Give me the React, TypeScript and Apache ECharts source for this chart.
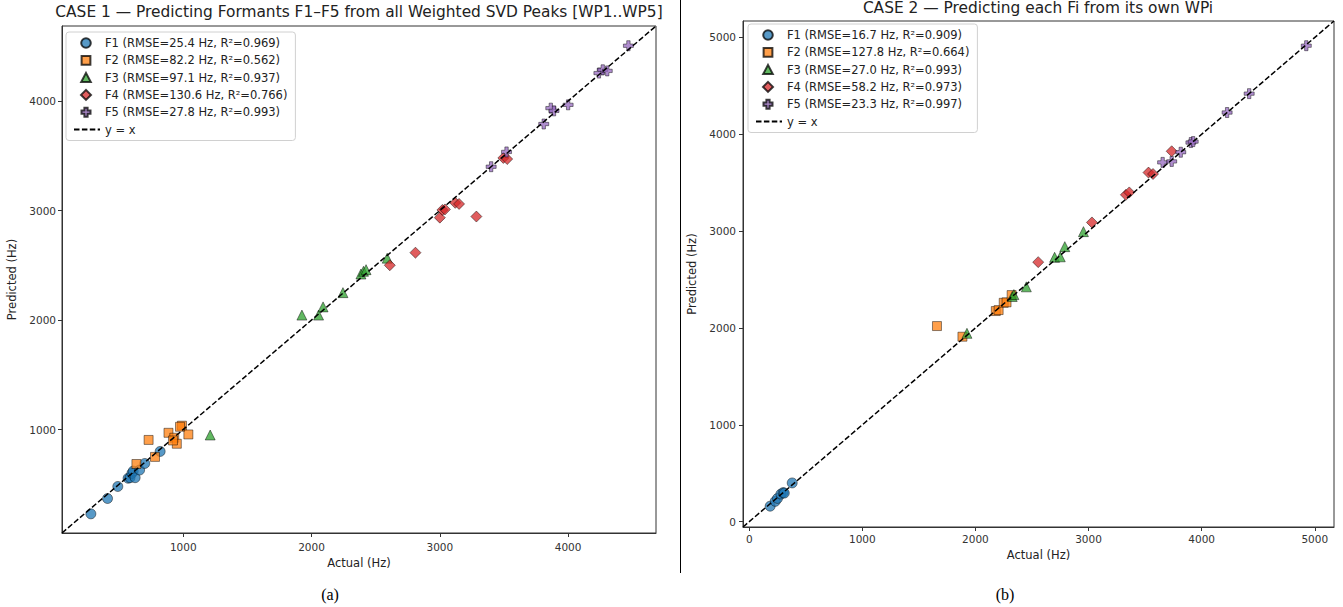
import React, { useEffect, useRef } from "react";
import * as echarts from "echarts";

// ---------- CASE 1 data (left) ----------
const A_NAMES = [
  "F1 (RMSE=25.4 Hz, R²=0.969)",
  "F2 (RMSE=82.2 Hz, R²=0.562)",
  "F3 (RMSE=97.1 Hz, R²=0.937)",
  "F4 (RMSE=130.6 Hz, R²=0.766)",
  "F5 (RMSE=27.8 Hz, R²=0.993)",
];
const A_F1_ACT = [280, 410, 490, 570, 585, 600, 610, 625, 660, 700, 820];
const A_F1_PRED = [230, 370, 480, 555, 560, 600, 620, 560, 630, 690, 800];
const A_F2_ACT = [730, 635, 780, 885, 990, 930, 950, 1040, 975, 920];
const A_F2_PRED = [905, 685, 750, 970, 1035, 925, 870, 955, 1025, 900];
const A_F3_ACT = [1210, 1925, 2055, 2090, 2245, 2385, 2405, 2425, 2590];
const A_F3_PRED = [950, 2045, 2045, 2120, 2250, 2420, 2445, 2460, 2565];
const A_F4_ACT = [2610, 2810, 3000, 3020, 3040, 3120, 3150, 3285, 3495, 3525];
const A_F4_PRED = [2500, 2615, 2935, 3005, 3010, 3070, 3060, 2945, 3480, 3470];
const A_F5_ACT = [3400, 3520, 3810, 3865, 3890, 4000, 4240, 4270, 4305, 4470];
const A_F5_PRED = [3400, 3535, 3790, 3935, 3910, 3965, 4255, 4285, 4275, 4505];
const A_RANGE = [55, 4685];
const A_TICKS = [1000, 2000, 3000, 4000];

// ---------- CASE 2 data (right) ----------
const B_NAMES = [
  "F1 (RMSE=16.7 Hz, R²=0.909)",
  "F2 (RMSE=127.8 Hz, R²=0.664)",
  "F3 (RMSE=27.0 Hz, R²=0.993)",
  "F4 (RMSE=58.2 Hz, R²=0.973)",
  "F5 (RMSE=23.3 Hz, R²=0.997)",
];
const B_F1_ACT = [185, 230, 250, 280, 300, 310, 380];
const B_F1_PRED = [160, 210, 240, 285, 300, 295, 400];
const B_F2_ACT = [1660, 1885, 2180, 2205, 2250, 2275, 2320];
const B_F2_PRED = [2020, 1910, 2175, 2185, 2260, 2265, 2340];
const B_F3_ACT = [1925, 2325, 2340, 2450, 2700, 2750, 2790, 2955];
const B_F3_PRED = [1945, 2325, 2345, 2425, 2730, 2735, 2840, 2995];
const B_F4_ACT = [2555, 3030, 3330, 3360, 3530, 3570, 3735];
const B_F4_PRED = [2680, 3090, 3375, 3400, 3605, 3590, 3825];
const B_F5_ACT = [3655, 3735, 3815, 3905, 3925, 4225, 4420, 4925];
const B_F5_PRED = [3710, 3720, 3815, 3915, 3925, 4225, 4420, 4915];
const B_RANGE = [-55, 5170];
const B_TICKS = [0, 1000, 2000, 3000, 4000, 5000];

const LINE_NAME = "y = x";
const TITLE_A = "CASE 1 — Predicting Formants F1–F5 from all Weighted SVD Peaks [WP1..WP5]";
const TITLE_B = "CASE 2 — Predicting each Fi from its own WPi";

const COLORS = ["#1f77b4", "#ff7f0e", "#2ca02c", "#d62728", "#9467bd"];
const PLUS = "path://M3,0H6V3H9V6H6V9H3V6H0V3H3Z";
const SYMBOLS = ["circle", "rect", "triangle", "diamond", PLUS];
const SIZES = [10, 9, 10, 11, 10];

// legend icons: padded to a 26x10 box so the marker keeps its shape
const PAD = "M0,0M26,10";
const LEGEND_ICONS = [
  `path://${PAD}M16.8,5A4.8,4.8,0,1,1,7.2,5A4.8,4.8,0,1,1,16.8,5Z`,
  `path://${PAD}M7.6,0.6H16.4V9.4H7.6Z`,
  `path://${PAD}M12,0.3L16.8,9.4H7.2Z`,
  `path://${PAD}M12,0L17,5L12,10L7,5Z`,
  `path://${PAD}M10.4,0.5H13.6V3.4H16.5V6.6H13.6V9.5H10.4V6.6H7.5V3.4H10.4Z`,
];

const FONT = "DejaVu Sans";

function zip(a: number[], b: number[]) {
  return a.map((v, i) => [v, b[i]]);
}

export default function App() {
  const ref = useRef<HTMLDivElement>(null);
  useEffect(() => {
    if (!ref.current) return;
    const chart = echarts.init(ref.current, undefined, { renderer: "svg" });

    const aData = [
      zip(A_F1_ACT, A_F1_PRED),
      zip(A_F2_ACT, A_F2_PRED),
      zip(A_F3_ACT, A_F3_PRED),
      zip(A_F4_ACT, A_F4_PRED),
      zip(A_F5_ACT, A_F5_PRED),
    ];
    const bData = [
      zip(B_F1_ACT, B_F1_PRED),
      zip(B_F2_ACT, B_F2_PRED),
      zip(B_F3_ACT, B_F3_PRED),
      zip(B_F4_ACT, B_F4_PRED),
      zip(B_F5_ACT, B_F5_PRED),
    ];

    const scatter = (names: string[], data: number[][][], idx: number) =>
      data.map((d, i) => ({
        name: names[i],
        type: "scatter",
        xAxisIndex: idx,
        yAxisIndex: idx,
        data: d,
        symbol: SYMBOLS[i],
        symbolSize: SIZES[i],
        itemStyle: {
          color: COLORS[i],
          opacity: 0.75,
          borderColor: "#000",
          borderWidth: 0.6,
        },
        z: 2,
      }));

    const diag = (range: number[], idx: number) => ({
      name: LINE_NAME,
      type: "line",
      xAxisIndex: idx,
      yAxisIndex: idx,
      data: [
        [range[0], range[0]],
        [range[1], range[1]],
      ],
      symbol: "circle",
      showSymbol: false,
      itemStyle: { color: "rgba(0,0,0,0)", borderWidth: 0 },
      lineStyle: { color: "#000", width: 1.5, type: [5.5, 2.4] },
      z: 5,
    });

    const fmt = (v: number) => String(v);

    const xAxis = (range: number[], ticks: number[], idx: number, gap: number, margin: number) => ({
      type: "value",
      gridIndex: idx,
      min: range[0],
      max: range[1],
      name: "Actual (Hz)",
      nameLocation: "middle",
      nameGap: gap,
      nameTextStyle: { fontFamily: FONT, fontSize: 11.5, color: "#222" },
      axisLine: { show: true, onZero: false, lineStyle: { color: "#333", width: 1 } },
      axisTick: { show: true, length: 4, customValues: ticks, lineStyle: { color: "#333" } },
      axisLabel: {
        customValues: ticks,
        formatter: fmt,
        fontFamily: FONT,
        fontSize: 10.5,
        color: "#333",
        margin,
      },
      splitLine: { show: false },
    });
    const yAxis = (range: number[], ticks: number[], idx: number, gap: number, margin: number) => ({
      type: "value",
      gridIndex: idx,
      min: range[0],
      max: range[1],
      name: "Predicted (Hz)",
      nameLocation: "middle",
      nameGap: gap,
      nameTextStyle: { fontFamily: FONT, fontSize: 11.5, color: "#222" },
      axisLine: { show: true, onZero: false, lineStyle: { color: "#333", width: 1 } },
      axisTick: { show: true, length: 4, customValues: ticks, lineStyle: { color: "#333" } },
      axisLabel: {
        customValues: ticks,
        formatter: fmt,
        fontFamily: FONT,
        fontSize: 10.5,
        color: "#333",
        margin,
      },
      splitLine: { show: false },
    });

    const legend = (names: string[], left: number, top: number) => ({
      data: [
        ...names.map((n, i) => ({ name: n, icon: LEGEND_ICONS[i] })),
        { name: LINE_NAME },
      ],
      orient: "vertical",
      left,
      top,
      itemWidth: 26,
      itemHeight: 10,
      itemGap: 5.3,
      symbolKeepAspect: false,
      padding: [5, 8, 5, 7],
      borderColor: "#d0d0d0",
      borderWidth: 1,
      borderRadius: 3,
      backgroundColor: "rgba(255,255,255,0.8)",
      selectedMode: false,
      textStyle: { fontFamily: FONT, fontSize: 11.5, color: "#222" },
    });

    chart.setOption({
      animation: false,
      backgroundColor: "#fff",
      title: [
        {
          text: TITLE_A,
          left: 359,
          top: 4,
          padding: 0,
          textAlign: "center",
          textStyle: { fontFamily: FONT, fontSize: 15.4, fontWeight: "normal", color: "#222" },
        },
        {
          text: TITLE_B,
          left: 1038,
          top: 0,
          padding: 0,
          textAlign: "center",
          textStyle: { fontFamily: FONT, fontSize: 15.4, fontWeight: "normal", color: "#222" },
        },
      ],
      legend: [legend(A_NAMES, 66, 32), legend(B_NAMES, 748, 24)],
      grid: [
        { left: 62, top: 26, width: 594, height: 507, show: true, borderColor: "#333", borderWidth: 1 },
        { left: 743, top: 21, width: 591, height: 506, show: true, borderColor: "#333", borderWidth: 1 },
      ],
      xAxis: [xAxis(A_RANGE, A_TICKS, 0, 23, 8), xAxis(B_RANGE, B_TICKS, 1, 22, 6)],
      yAxis: [yAxis(A_RANGE, A_TICKS, 0, 44, 6), yAxis(B_RANGE, B_TICKS, 1, 45, 7)],
      series: [
        ...scatter(A_NAMES, aData, 0),
        diag(A_RANGE, 0),
        ...scatter(B_NAMES, bData, 1),
        diag(B_RANGE, 1),
      ],
      graphic: [
        {
          type: "line",
          shape: { x1: 680.5, y1: 0, x2: 680.5, y2: 573 },
          style: { stroke: "#000", lineWidth: 1 },
        },
        {
          type: "text",
          x: 330,
          y: 594,
          style: {
            text: "(a)",
            font: '16px "Liberation Serif", "DejaVu Serif", serif',
            fill: "#000",
            align: "center",
            verticalAlign: "middle",
          },
        },
        {
          type: "text",
          x: 1005,
          y: 594,
          style: {
            text: "(b)",
            font: '16px "Liberation Serif", "DejaVu Serif", serif',
            fill: "#000",
            align: "center",
            verticalAlign: "middle",
          },
        },
      ],
    });
    return () => chart.dispose();
  }, []);

  return (
    <div
      ref={ref}
      style={{ position: "fixed", left: 0, top: 0, width: 1343, height: 607, background: "#fff" }}
    />
  );
}
